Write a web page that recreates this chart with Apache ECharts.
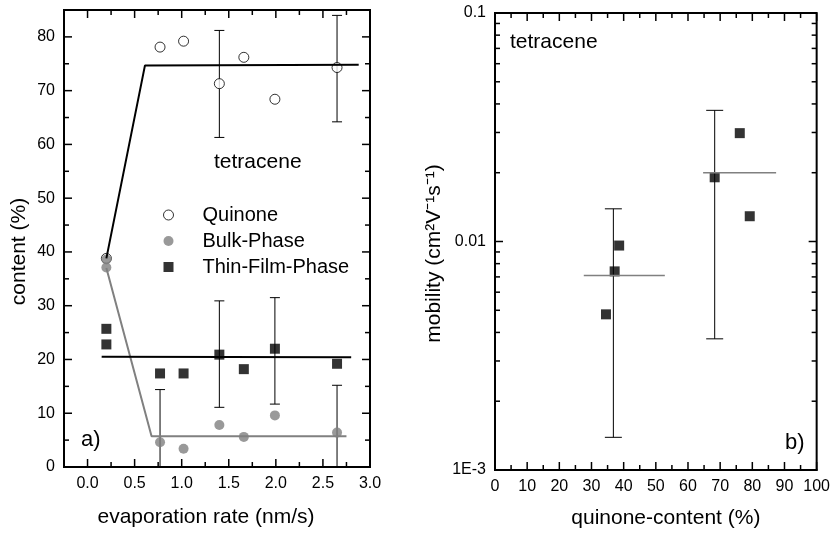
<!DOCTYPE html>
<html>
<head>
<meta charset="utf-8">
<script src="https://cdn.jsdelivr.net/npm/echarts@6/dist/echarts.min.js"></script>
<style>
html, body { margin: 0; padding: 0; background: #fff; }
#chart { width: 833px; height: 534px; }
</style>
</head>
<body>
<div id="chart"></div>
<script>
// panel a) composition vs evaporation rate
const quinoneRate = [0.2, 0.77, 1.02, 1.4, 1.66, 1.99, 2.65];
const quinone = [38.8, 78.1, 79.2, 71.3, 76.2, 68.4, 74.3];
const phaseRate = [0.2, 0.2, 0.77, 1.02, 1.4, 1.66, 1.99, 2.65];
const bulkPhase = [38.6, 37.1, 4.6, 3.4, 7.8, 5.6, 9.6, 6.4];
const thinFilm = [25.7, 22.8, 17.4, 17.4, 20.9, 18.2, 22.0, 19.2];

// guide lines
const quinoneFitRate = [0.2, 0.61, 2.88];
const quinoneFit = [38.8, 74.7, 74.8];
const bulkFitRate = [0.2, 0.68, 2.75];
const bulkFit = [37.0, 5.7, 5.7];
const thinFitRate = [0.15, 2.8];
const thinFit = [20.5, 20.4];

// error bars (x, low, high)
const errRate = [1.4, 2.65, 1.4, 1.99, 0.77, 2.65];
const errLow = [61.3, 64.2, 11.1, 11.7, 0, 0];
const errHigh = [81.2, 84.0, 30.9, 31.5, 14.4, 15.2];

// panel b) mobility vs quinone content
const quinoneContent = [34.5, 37.2, 38.6, 68.3, 76.1, 79.2];
const mobility = [0.0048, 0.0074, 0.0096, 0.0191, 0.0298, 0.0129];
const meanLowX = [27.6, 52.8];
const meanLow = [0.0071, 0.0071];
const meanHighX = [64.7, 87.4];
const meanHigh = [0.020, 0.020];
const mobErrX = [36.8, 68.3];
const mobErrLow = [0.00139, 0.00375];
const mobErrHigh = [0.0139, 0.0375];

// ticks
const rateTicks = [0, 0.5, 1, 1.5, 2, 2.5, 3];
const rateMinor = [0.25, 0.75, 1.25, 1.75, 2.25, 2.75];
const contentTicks = [0, 10, 20, 30, 40, 50, 60, 70, 80];
const contentMinor = [5, 15, 25, 35, 45, 55, 65, 75];
const qcTicks = [0, 10, 20, 30, 40, 50, 60, 70, 80, 90, 100];
const qcMinor = [5, 15, 25, 35, 45, 55, 65, 75, 85, 95];
const mobTicks = [0.001, 0.01, 0.1];
const mobTickLabels = ['1E-3', '0.01', '0.1'];
const mobMinor = [0.002, 0.003, 0.004, 0.005, 0.006, 0.007, 0.008, 0.009,
                  0.02, 0.03, 0.04, 0.05, 0.06, 0.07, 0.08, 0.09];

const FONT = '"Liberation Sans", Arial, sans-serif';
const pair = (xs, ys) => xs.map((x, i) => [x, ys[i]]);
const triple = (xs, lo, hi) => xs.map((x, i) => [x, lo[i], hi[i]]);

const frame = { show: true, backgroundColor: 'transparent', borderColor: '#000', borderWidth: 2 };
const panelA = Object.assign({ left: 64, top: 10, width: 306, height: 457 }, frame);
const panelB = Object.assign({ left: 495, top: 13, width: 324, height: 458 }, frame);

function axis(gridIndex, type, min, max, labels, fmt, name, nameGap, padding) {
  const a = {
    gridIndex: gridIndex, min: min, max: max,
    splitLine: { show: false },
    axisLine: { show: true, onZero: false, lineStyle: { color: '#000', width: 2 } },
    axisTick: { show: false },
    axisLabel: {
      show: true, customValues: labels.slice(), formatter: fmt, margin: 9,
      fontSize: 16, color: '#000', fontFamily: FONT
    },
    name: name, nameLocation: 'middle', nameGap: nameGap,
    nameTextStyle: { fontSize: 21, color: '#000', fontFamily: FONT, padding: padding }
  };
  if (type === 'log') a.type = 'log';
  return a;
}

// tick marks on all four sides of a frame: [x, y, 0 = x tick | 1 = y tick, length]
function tickItems(xMajor, xMinor, yMajor, yMinor, xMin, yMin) {
  return [].concat(
    xMajor.map(v => [v, yMin, 0, 8]),
    xMinor.map(v => [v, yMin, 0, 5]),
    yMajor.map(v => [xMin, v, 1, 8]),
    yMinor.map(v => [xMin, v, 1, 5])
  );
}

function frameTicks(params, api) {
  const r = params.coordSys;
  const p = api.coord([api.value(0), api.value(1)]);
  const len = api.value(3);
  const style = { stroke: '#000', lineWidth: 1.5 };
  const line = (x1, y1, x2, y2) => ({ type: 'line', shape: { x1, y1, x2, y2 }, style });
  if (api.value(2) === 0) {
    const x = p[0];
    return {
      type: 'group',
      children: [
        line(x, r.y + r.height, x, r.y + r.height - len),
        line(x, r.y, x, r.y + len)
      ]
    };
  }
  const y = p[1];
  return {
    type: 'group',
    children: [
      line(r.x, y, r.x + len, y),
      line(r.x + r.width, y, r.x + r.width - len, y)
    ]
  };
}

function errorBars(capHalf) {
  return function (params, api) {
    const x = api.value(0);
    const lo = api.coord([x, api.value(1)]);
    const hi = api.coord([x, api.value(2)]);
    const style = { stroke: '#000', lineWidth: 1 };
    return {
      type: 'group',
      children: [
        { type: 'line', shape: { x1: lo[0], y1: lo[1], x2: hi[0], y2: hi[1] }, style },
        { type: 'line', shape: { x1: lo[0] - capHalf, y1: lo[1], x2: lo[0] + capHalf, y2: lo[1] }, style },
        { type: 'line', shape: { x1: hi[0] - capHalf, y1: hi[1], x2: hi[0] + capHalf, y2: hi[1] }, style }
      ]
    };
  };
}

const rateFmt = v => v.toFixed(1);
const plainFmt = v => String(v);
const mobFmt = v => mobTickLabels[mobTicks.findIndex(t => Math.abs(t - v) / t < 1e-6)] || '';

const chart = echarts.init(document.getElementById('chart'), null, { renderer: 'canvas' });

const option = {
  animation: false,
  backgroundColor: '#fff',
  grid: [panelA, panelB],
  xAxis: [
    axis(0, 'value', -0.25, 3, rateTicks, rateFmt, 'evaporation rate (nm/s)', 40, [0, 22, 0, 0]),
    axis(1, 'value', 0, 100, qcTicks, plainFmt, 'quinone-content (%)', 38, [0, 0, 0, 20])
  ],
  yAxis: [
    axis(0, 'value', 0, 85, contentTicks, plainFmt, 'content (%)', 34, [0, 26, 0, 0]),
    axis(1, 'log', 0.001, 0.1, mobTicks, mobFmt, 'mobility (cm²V⁻¹s⁻¹)', 50, [0, 24, 0, 0])
  ],
  legend: {
    orient: 'vertical',
    left: 158,
    top: 200,
    itemWidth: 10,
    itemHeight: 10,
    itemGap: 6,
    selectedMode: false,
    itemStyle: { borderWidth: 1 },
    textStyle: {
      fontSize: 20, color: '#000', fontFamily: FONT,
      lineHeight: 18, padding: [0, 0, 0, 24]
    },
    data: ['Quinone', 'Bulk-Phase', 'Thin-Film-Phase']
  },
  graphic: [
    { type: 'text', left: 214, top: 152, style: { text: 'tetracene', font: '21px ' + FONT, fill: '#000' } },
    { type: 'text', left: 81, top: 429, style: { text: 'a)', font: '22px ' + FONT, fill: '#000' } },
    { type: 'text', left: 510, top: 32, style: { text: 'tetracene', font: '21px ' + FONT, fill: '#000' } },
    { type: 'text', left: 785, top: 432, style: { text: 'b)', font: '22px ' + FONT, fill: '#000' } }
  ],
  series: [
    {
      name: 'frame ticks a', type: 'custom', xAxisIndex: 0, yAxisIndex: 0, silent: true,
      renderItem: frameTicks,
      data: tickItems(rateTicks, rateMinor, contentTicks, contentMinor, -0.25, 0)
    },
    {
      name: 'frame ticks b', type: 'custom', xAxisIndex: 1, yAxisIndex: 1, silent: true,
      renderItem: frameTicks,
      data: tickItems(qcTicks, qcMinor, mobTicks, mobMinor, 0, 0.001)
    },
    {
      name: 'Quinone fit', type: 'line', xAxisIndex: 0, yAxisIndex: 0,
      data: pair(quinoneFitRate, quinoneFit), showSymbol: false, silent: true,
      lineStyle: { color: '#000', width: 2 }
    },
    {
      name: 'Bulk fit', type: 'line', xAxisIndex: 0, yAxisIndex: 0,
      data: pair(bulkFitRate, bulkFit), showSymbol: false, silent: true,
      lineStyle: { color: '#808080', width: 2 }
    },
    {
      name: 'Thin fit', type: 'line', xAxisIndex: 0, yAxisIndex: 0,
      data: pair(thinFitRate, thinFit), showSymbol: false, silent: true,
      lineStyle: { color: '#000', width: 2 }
    },
    {
      name: 'errors a', type: 'custom', xAxisIndex: 0, yAxisIndex: 0,
      renderItem: errorBars(5), data: triple(errRate, errLow, errHigh), silent: true
    },
    {
      name: 'Quinone', type: 'scatter', xAxisIndex: 0, yAxisIndex: 0,
      data: pair(quinoneRate, quinone), symbol: 'circle', symbolSize: 10,
      itemStyle: { color: '#fff', borderColor: '#000', borderWidth: 1 }
    },
    {
      name: 'Bulk-Phase', type: 'scatter', xAxisIndex: 0, yAxisIndex: 0,
      data: pair(phaseRate, bulkPhase), symbol: 'circle', symbolSize: 10,
      itemStyle: { color: '#808080' }
    },
    {
      name: 'Thin-Film-Phase', type: 'scatter', xAxisIndex: 0, yAxisIndex: 0,
      data: pair(phaseRate, thinFilm), symbol: 'rect', symbolSize: 10,
      itemStyle: { color: '#000' }
    },
    {
      name: 'mean low', type: 'line', xAxisIndex: 1, yAxisIndex: 1,
      data: pair(meanLowX, meanLow), showSymbol: false, silent: true,
      lineStyle: { color: '#808080', width: 1.5 }
    },
    {
      name: 'mean high', type: 'line', xAxisIndex: 1, yAxisIndex: 1,
      data: pair(meanHighX, meanHigh), showSymbol: false, silent: true,
      lineStyle: { color: '#808080', width: 1.5 }
    },
    {
      name: 'errors b', type: 'custom', xAxisIndex: 1, yAxisIndex: 1,
      renderItem: errorBars(8.5), data: triple(mobErrX, mobErrLow, mobErrHigh), silent: true
    },
    {
      name: 'mobility', type: 'scatter', xAxisIndex: 1, yAxisIndex: 1,
      data: pair(quinoneContent, mobility), symbol: 'rect', symbolSize: 10,
      itemStyle: { color: '#000' }
    }
  ]
};

window.addEventListener('resize', function () {
  chart.resize();
});

option && chart.setOption(option);
</script>
</body>
</html>
